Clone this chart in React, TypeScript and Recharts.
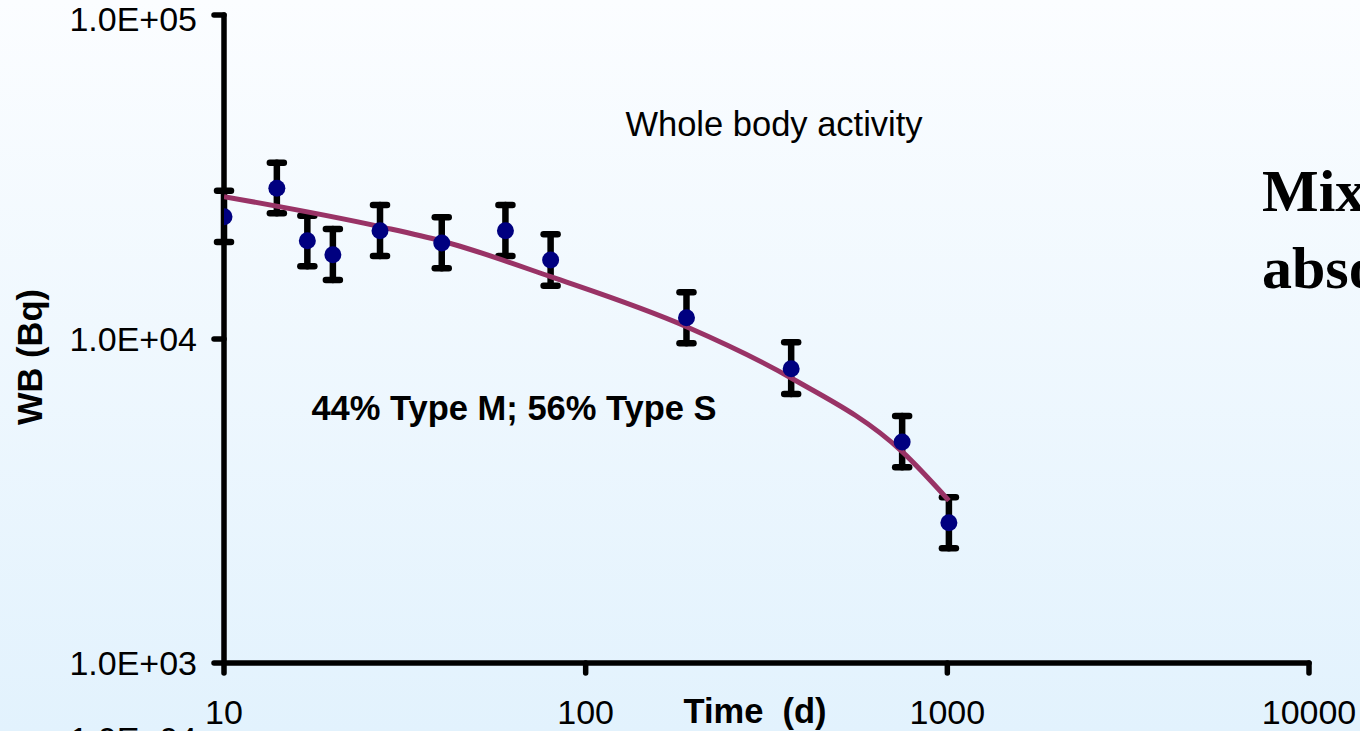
import { ScatterChart, Scatter, XAxis, YAxis, ErrorBar } from 'recharts';

// measured whole body activity (Bq) vs time (d)
const times = [10, 14, 17, 20, 27, 40, 60, 80, 190, 370, 750, 1010];
const activity = [23850, 29190, 20110, 18200, 21600, 19780, 21600, 17530, 11630, 8100, 4810, 2710];
const activityLow = [19930, 24430, 16760, 15210, 18040, 16530, 18040, 14600, 9700, 6765, 4018, 2259];
const activityHigh = [28690, 35000, 24020, 21850, 25920, 23750, 25920, 21040, 13940, 9770, 5785, 3246];

// model curve (44% Type M; 56% Type S)
const fitTimes = [10, 27, 40, 80, 190, 370, 750, 1010];
const fitActivity = [27500, 22220, 20070, 15570, 10910, 7580, 4490, 3170];

const xTicks = [10, 100, 1000, 10000];
const yTicks = [1000, 10000, 100000];
const yTickLabels = ['1.0E+03', '1.0E+04', '1.0E+05'];

const points = times.map((t, i) => ({
  t,
  v: activity[i],
  err: [activity[i] - activityLow[i], activityHigh[i] - activity[i]],
}));
const fitPoints = fitTimes.map((t, i) => ({ t, v: fitActivity[i] }));

const sans = '"Liberation Sans", Arial, sans-serif';
const serif = '"Liberation Serif", "Times New Roman", serif';
const axisStyle = { stroke: '#000', strokeWidth: 5.5, strokeLinecap: 'round' as const };

const Hidden = () => <g />;
const Dot = (p: any) => <circle cx={p.cx} cy={p.cy} r={8.5} fill="#000080" />;

export default function App() {
  return (
    <div
      style={{
        position: 'absolute',
        left: 0,
        top: 0,
        width: 1360,
        height: 731,
        overflow: 'hidden',
        background: 'linear-gradient(#fbfdff, #e2f2fd)',
      }}
    >
      <ScatterChart width={1360} height={731} margin={{ top: 15, right: 51, bottom: 0, left: 0 }}>
        <XAxis
          type="number"
          dataKey="t"
          scale="log"
          domain={[10, 10000]}
          ticks={xTicks}
          allowDataOverflow
          height={68}
          axisLine={axisStyle}
          tickLine={axisStyle}
          tickSize={10}
          tickMargin={27}
          tick={{ fill: '#000', fontSize: 34, fontFamily: sans }}
        />
        <YAxis
          type="number"
          dataKey="v"
          scale="log"
          domain={[1000, 100000]}
          ticks={yTicks}
          allowDataOverflow
          width={224}
          tickFormatter={(v: number) => yTickLabels[yTicks.indexOf(v)]}
          axisLine={axisStyle}
          tickLine={axisStyle}
          tickSize={10}
          tickMargin={17}
          tick={{ fill: '#000', fontSize: 34, fontFamily: sans }}
        />
        <Scatter data={points} shape={Hidden} isAnimationActive={false}>
          <ErrorBar dataKey="err" direction="y" width={7} stroke="#000" strokeWidth={6.5} strokeLinecap="round" />
        </Scatter>
        <Scatter
          data={fitPoints}
          fill="#993366"
          line={{ stroke: '#993366', strokeWidth: 5 }}
          lineJointType="monotoneX"
          shape={Hidden}
          isAnimationActive={false}
        />
        <Scatter data={points} shape={Dot} isAnimationActive={false} />

        <text x={774} y={136} textAnchor="middle" fontSize={34.5} fontFamily={sans} fill="#000">
          Whole body activity
        </text>
        <text x={514} y={420} textAnchor="middle" fontSize={34.5} fontWeight="bold" fontFamily={sans} fill="#000">
          44% Type M; 56% Type S
        </text>
        <text x={755} y={723} textAnchor="middle" fontSize={34.5} fontWeight="bold" fontFamily={sans} fill="#000" style={{ whiteSpace: 'pre' }}>
          Time  (d)
        </text>
        <text
          x={30}
          y={357}
          transform="rotate(-90 30 357)"
          textAnchor="middle"
          dominantBaseline="central"
          fontSize={34.5}
          fontWeight="bold"
          fontFamily={sans}
          fill="#000"
        >
          WB (Bq)
        </text>
        <text x={1262} y={211} fontSize={60} fontWeight="bold" fontFamily={serif} fill="#000">
          Mixed
        </text>
        <text x={1262} y={288} fontSize={60} fontWeight="bold" fontFamily={serif} fill="#000">
          absorption
        </text>
        <text x={197} y={751} textAnchor="end" fontSize={34} fontFamily={sans} fill="#000">
          1.0E+04
        </text>
      </ScatterChart>
    </div>
  );
}
